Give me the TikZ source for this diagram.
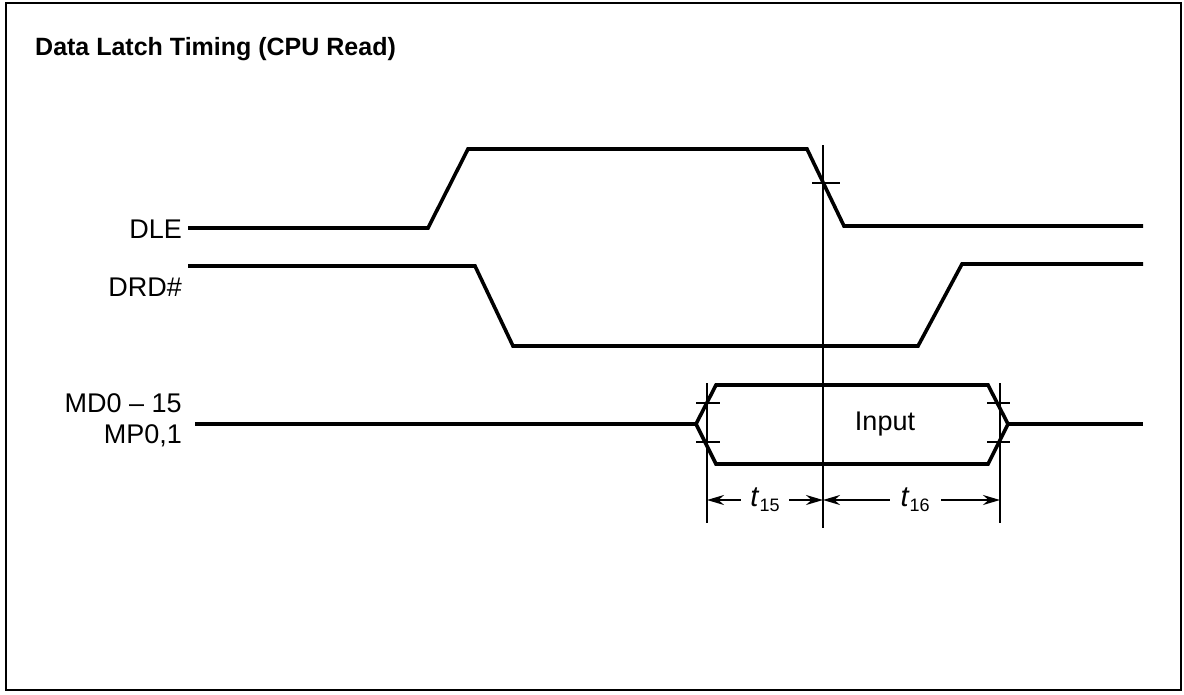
\documentclass[tikz,border=0pt]{standalone}
\usepackage{fontspec}
\setmainfont{Liberation Sans}
\usetikzlibrary{arrows.meta}
\newcommand{\tlbl}[1]{\textit{t}\raisebox{-5pt}{\fontsize{18}{18}\selectfont #1}}
\tikzset{
  sig/.style={line width=3.6pt, line join=miter},
  thin/.style={line width=1.6pt},
  dimarrow/.style={line width=1.8pt, {Stealth[length=17pt,width=10pt]}-{Stealth[length=17pt,width=10pt]}},
  lbl/.style={font=\fontsize{27}{31}\selectfont, inner sep=0pt},
}
\begin{document}
\begin{tikzpicture}[x=1pt,y=-1pt]
\useasboundingbox (0,0) rectangle (1184,694);
\draw[line width=1.8pt] (6,3) rectangle (1181,690);
\node[anchor=base west, inner sep=0pt, font=\bfseries\fontsize{25}{29}\selectfont] (title) at (35,55) {Data Latch Timing (CPU Read)};
% signal names
\node[lbl, anchor=east] (dle) at (182,229) {DLE};
\node[lbl, anchor=east] (drd) at (182,287) {DRD\#};
\node[lbl, anchor=east, align=right] (md) at (182,420) {MD0 -- 15\\MP0,1};
% waveforms
\draw[sig] (188,228) -- (428,228) -- (468,149) -- (807,149) -- (844,226) -- (1143,226);
\draw[sig] (188,266) -- (475,266) -- (513,346) -- (918,346) -- (962,264) -- (1143,264);
\draw[sig] (195,424) -- (696,424);
\draw[sig] (696,424) -- (716,385) -- (988,385) -- (1008,424) -- (988,464) -- (716,464) -- cycle;
\draw[sig] (1008,424) -- (1143,424);
\node[lbl] (input) at (885,424) {Input};
% reference lines and ticks
\coordinate (ref top) at (823,145);
\coordinate (ref bot) at (823,528);
\draw[thin] (ref top) -- (ref bot);
\draw[thin] (812,183) -- (840,183);
\draw[thin] (707,383) -- (707,523);
\draw[thin] (1000,383) -- (1000,523);
\draw[thin] (696,403) -- (720,403);
\draw[thin] (696,442) -- (720,442);
\draw[thin] (987,403) -- (1010,403);
\draw[thin] (987,442) -- (1010,442);
% timing parameters
\coordinate (t15a) at (707,500);
\coordinate (t15b) at (823,500);
\coordinate (t16b) at (1000,500);
\draw[dimarrow] (t15a) -- (t15b) node[midway, fill=white, inner xsep=9pt, inner ysep=2pt, font=\fontsize{29}{31}\selectfont] (t15) {\tlbl{15}};
\draw[dimarrow] (t15b) -- (t16b) node[pos=0.52, fill=white, inner xsep=11pt, inner ysep=2pt, font=\fontsize{29}{31}\selectfont] (t16) {\tlbl{16}};
\end{tikzpicture}
\end{document}
